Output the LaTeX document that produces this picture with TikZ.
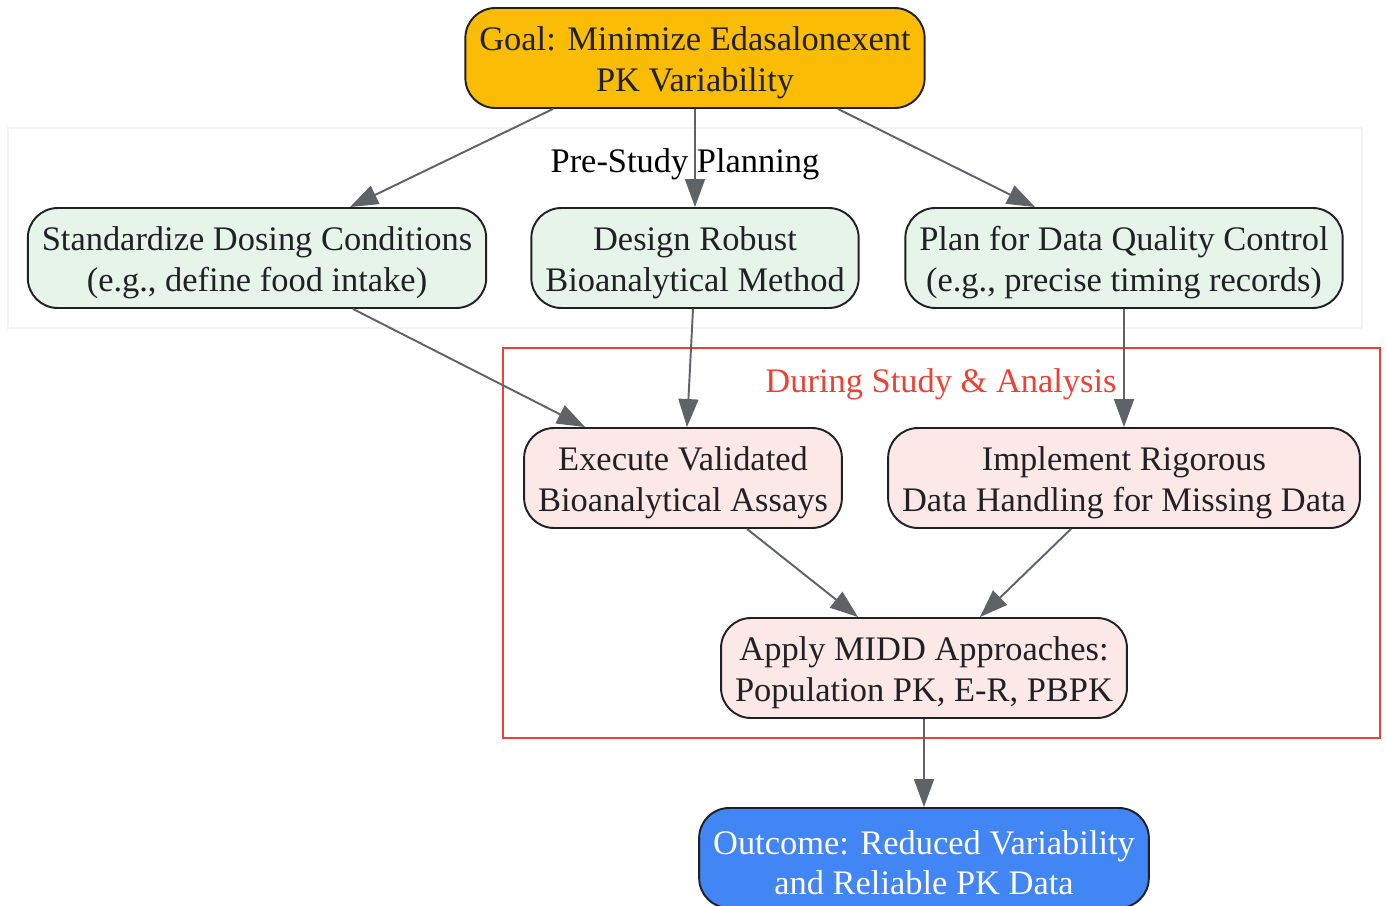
\documentclass[tikz,border=0pt]{standalone}
\usepackage{fontspec}
\setmainfont{Liberation Serif}
\usetikzlibrary{arrows.meta,positioning}

\definecolor{goalc}{HTML}{FBBC05}
\definecolor{planc}{HTML}{E6F4EA}
\definecolor{studyc}{HTML}{FCE8E6}
\definecolor{outc}{HTML}{4285F4}
\definecolor{edgec}{HTML}{5F6368}
\definecolor{textc}{HTML}{202124}
\definecolor{redc}{HTML}{EA4335}
\definecolor{greyc}{HTML}{F1F3F4}

% a taller first line pushes the two-line text a little down
\newcommand{\topstrut}{\rule{0pt}{19pt}}

\begin{document}
\begin{tikzpicture}[x=0.02cm, y=-0.02cm, >={Triangle[length=0.56cm,width=0.4cm]},
    main node/.style={draw=textc, line width=1.1pt, rounded corners=0.6cm, minimum height=2cm,
        inner xsep=0.28cm, align=center, text=textc, font=\fontsize{19.6}{23}\selectfont},
    cluster/.style={draw, line width=1pt, minimum width=#1, inner sep=0pt},
    arr/.style={->, draw=edgec, fill=edgec, line width=1.1pt}]
    \useasboundingbox (0,0) rectangle (1387,906);

    % clusters
    \node[cluster=27.08cm, draw=greyc, minimum height=4cm] (pre) at (685,228) {};
    \node[font=\fontsize{19.6}{23}\selectfont] (prelab) at (685,164) {Pre-Study Planning};
    \node[cluster=17.54cm, draw=redc, minimum height=7.8cm] (during) at (941.5,543) {};
    \node[font=\fontsize{19.6}{23}\selectfont, text=redc] (durlab) at (941,384) {During Study \& Analysis};

    % nodes
    \node[main node, fill=goalc] (goal) at (695,58) {\topstrut Goal: Minimize Edasalonexent\\PK Variability};
    \node[main node, fill=planc] (std) at (257,258) {\topstrut Standardize Dosing Conditions\\(e.g., define food intake)};
    \node[main node, fill=planc] (design) at (695,258) {\topstrut Design Robust\\Bioanalytical Method};
    \node[main node, fill=planc] (plan) at (1124,258) {\topstrut Plan for Data Quality Control\\(e.g., precise timing records)};
    \node[main node, fill=studyc] (exec) at (683,478) {\topstrut Execute Validated\\Bioanalytical Assays};
    \node[main node, fill=studyc] (impl) at (1124,478) {\topstrut Implement Rigorous\\Data Handling for Missing Data};
    \node[main node, fill=studyc] (apply) at (924,668) {\topstrut Apply MIDD Approaches:\\Population PK, E-R, PBPK};
    \node[main node, fill=outc, text=white] (out) at (924,858) {\topstrut Outcome: Reduced Variability\\and Reliable PK Data};

    % edges
    \draw[arr] ([xshift=-2.84cm]goal.south) -- ([xshift=1.86cm]std.north);
    \draw[arr] (goal) -- (design);
    \draw[arr] ([xshift=2.86cm]goal.south) -- ([xshift=-1.78cm]plan.north);
    \draw[arr] ([xshift=1.92cm]std.south) -- ([xshift=-1.96cm]exec.north);
    \draw[arr] ([xshift=-0.04cm]design.south) -- ([xshift=0.08cm]exec.north);
    \draw[arr] (plan) -- (impl);
    \draw[arr] ([xshift=1.28cm]exec.south) -- ([xshift=-1.32cm]apply.north);
    \draw[arr] ([xshift=-1.06cm]impl.south) -- ([xshift=1.12cm]apply.north);
    \draw[arr] (apply) -- (out);
\end{tikzpicture}
\end{document}
